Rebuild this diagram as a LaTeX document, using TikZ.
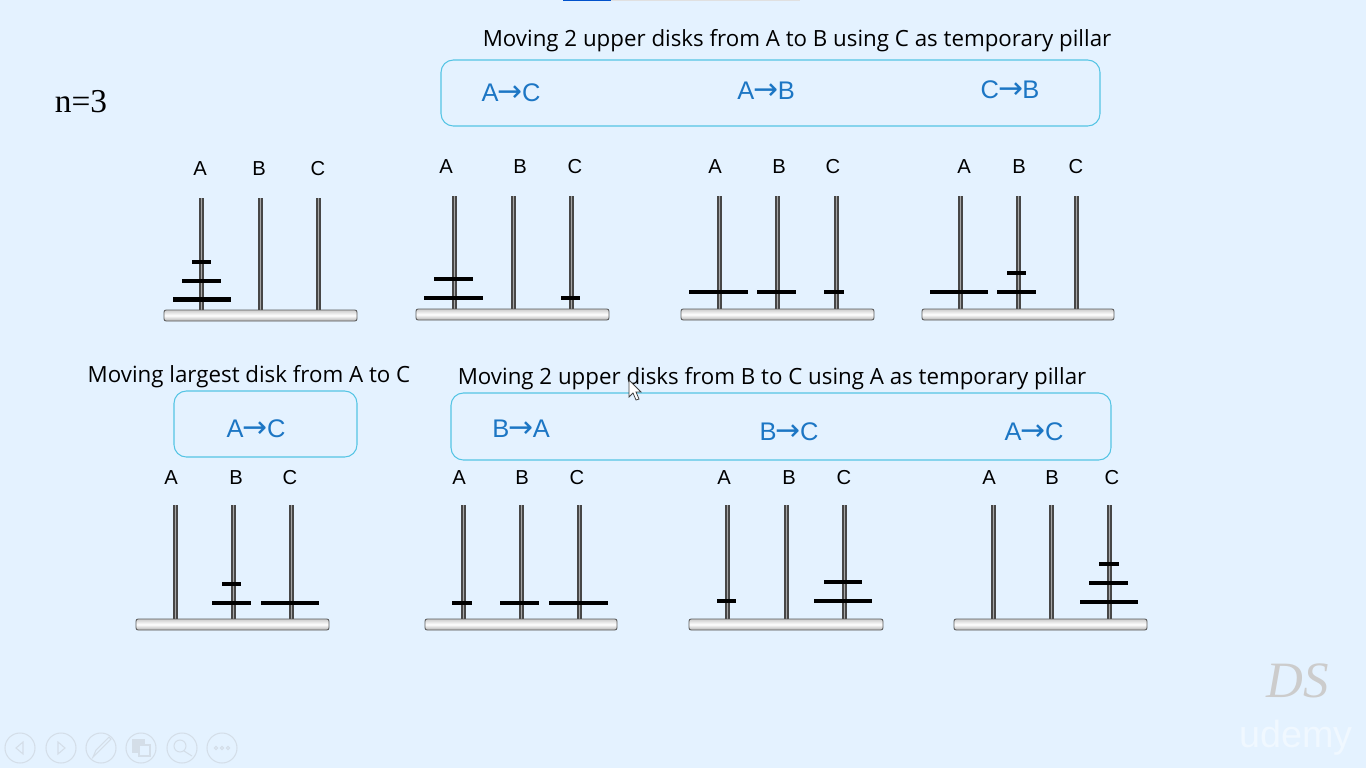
\documentclass[tikz,border=0pt]{standalone}
\usepackage{fontspec}
\setmainfont{Open Sans}
\newfontfamily\labelfont{Liberation Sans}
\newfontfamily\formulafont{Liberation Serif}
\newfontfamily\arrowfont{DejaVu Sans}
\usetikzlibrary{positioning}
\definecolor{slideBg}{RGB}{228, 242, 255}
\definecolor{boxEdge}{RGB}{84, 196, 228}
\definecolor{moveBlue}{RGB}{28, 118, 196}
\definecolor{navGrey}{RGB}{212, 222, 232}
\newcommand{\movearrow}{\kern-0.03em{\arrowfont\fontsize{17}{18}\selectfont →}\kern-0.03em}
\tikzset{
    peg/.style={draw=black!72, line width=0.85pt, double=black!35, double distance=1pt, xshift=0.01cm},
    disk/.style={black, line width=2.3pt},
    plinth/.style={draw=black!65, line width=0.5pt, rounded corners=1.2pt, top color=black!20, bottom color=black!30, middle color=white},
    movebox/.style={draw=boxEdge, line width=0.6pt, rounded corners=7pt, fill=slideBg},
    pillar/.style={font=\labelfont\fontsize{11.5}{14}\selectfont, text=black, inner sep=0pt},
    move/.style={font=\labelfont\fontsize{14.5}{18}\selectfont, text=moveBlue, inner sep=0pt},
    heading/.style={font=\fontsize{12.7}{15}\selectfont, text=black, inner sep=0pt},
    navring/.style={draw=navGrey, line width=0.6pt}
}
\begin{document}
\begin{tikzpicture}[x=0.02cm, y=-0.02cm]
    \useasboundingbox (0,0) rectangle (1366,768);
    \fill[slideBg] (0,0) rectangle (1366,768);
    \fill[blue!60!cyan!80!black] (563,0) rectangle (611,1.2);
    \fill[black!12] (611,0) rectangle (800,1.2);

    \node[font=\formulafont\fontsize{19}{22}\selectfont, inner sep=0pt] (count) at (81,102) {n=3};
    \node[heading] (titleTop) at (797,41) {Moving 2 upper disks from A to B using C as temporary pillar};
    \node[heading] (titleMid) at (249,377) {Moving largest disk from A to C};
    \node[heading] (titleLow) at (772,379) {Moving 2 upper disks from B to C using A as temporary pillar};

    \draw[movebox] (441,60) rectangle (1100,126);
    \draw[movebox] (174,391) rectangle (357,457);
    \draw[movebox] (451,393) rectangle (1111,460);
    \node[move] (moveA) at (511,93) {A\movearrow C};
    \node[move] (moveB) at (766,91) {A\movearrow B};
    \node[move] (moveC) at (1010,90) {C\movearrow B};
    \node[move] (moveD) at (256,429) {A\movearrow C};
    \node[move] (moveE) at (521,429) {B\movearrow A};
    \node[move] (moveF) at (789,432) {B\movearrow C};
    \node[move] (moveG) at (1034,432) {A\movearrow C};

    % first row
    \node[pillar] (a1) at (200,169) {A};
    \node[pillar] (b1) at (259,169) {B};
    \node[pillar] (c1) at (318,169) {C};
    \draw[peg] (201,198) -- (201,310) (260,198) -- (260,310) (318,198) -- (318,310);
    \draw[plinth] (164,310) rectangle (357,321);
    \draw[disk] (192,262) -- (211,262) (182,281) -- (221,281) (173,299.5) -- (231,299.5);

    \node[pillar] (a2) at (446,167) {A};
    \node[pillar] (b2) at (520,167) {B};
    \node[pillar] (c2) at (575,167) {C};
    \draw[peg] (454,196) -- (454,309) (513,196) -- (513,309) (571,196) -- (571,309);
    \draw[plinth] (416,309) rectangle (609,320);
    \draw[disk] (434,279) -- (473,279) (424,298) -- (483,298) (561,298) -- (580,298);

    \node[pillar] (a3) at (715,167) {A};
    \node[pillar] (b3) at (779,167) {B};
    \node[pillar] (c3) at (833,167) {C};
    \draw[peg] (719,196) -- (719,309) (777,196) -- (777,309) (836,196) -- (836,309);
    \draw[plinth] (681,309) rectangle (874,320);
    \draw[disk] (689,292) -- (748,292) (757,292) -- (796,292) (824,292) -- (844,292);

    \node[pillar] (a4) at (964,167) {A};
    \node[pillar] (b4) at (1019,167) {B};
    \node[pillar] (c4) at (1076,167) {C};
    \draw[peg] (960,196) -- (960,309) (1018,196) -- (1018,309) (1076,196) -- (1076,309);
    \draw[plinth] (922,309) rectangle (1114,320);
    \draw[disk] (930,292) -- (988,292) (997,292) -- (1036,292) (1007,273) -- (1026,273);

    % second row
    \node[pillar] (a5) at (171,478) {A};
    \node[pillar] (b5) at (236,478) {B};
    \node[pillar] (c5) at (290,478) {C};
    \draw[peg] (175,505) -- (175,619) (233,505) -- (233,619) (291,505) -- (291,619);
    \draw[plinth] (136,619) rectangle (329,630);
    \draw[disk] (222,584) -- (241,584) (212,603) -- (251,603) (261,603) -- (319,603);

    \node[pillar] (a6) at (459,478) {A};
    \node[pillar] (b6) at (522,478) {B};
    \node[pillar] (c6) at (577,478) {C};
    \draw[peg] (463,505) -- (463,619) (521,505) -- (521,619) (579,505) -- (579,619);
    \draw[plinth] (425,619) rectangle (617,630);
    \draw[disk] (452,603) -- (472,603) (500,603) -- (539,603) (549,603) -- (608,603);

    \node[pillar] (a7) at (724,478) {A};
    \node[pillar] (b7) at (789,478) {B};
    \node[pillar] (c7) at (844,478) {C};
    \draw[peg] (727,505) -- (727,619) (786,505) -- (786,619) (844,505) -- (844,619);
    \draw[plinth] (689,619) rectangle (883,630);
    \draw[disk] (717,601) -- (736,601) (814,601) -- (872,601) (824,582) -- (862,582);

    \node[pillar] (a8) at (989,478) {A};
    \node[pillar] (b8) at (1052,478) {B};
    \node[pillar] (c8) at (1112,478) {C};
    \draw[peg] (993,505) -- (993,619) (1051,505) -- (1051,619) (1109,505) -- (1109,619);
    \draw[plinth] (954,619) rectangle (1147,630);
    \draw[disk] (1099,564) -- (1119,564) (1089,583) -- (1128,583) (1080,602) -- (1138,602);

    % pointer
    \draw[fill=white, draw=black!75, line width=0.45pt] (629,380) -- (629,397) -- (633,393) -- (636,400) -- (639,399) -- (636,392) -- (641,392) -- cycle;

    % player controls
    \draw[navring] (20,748) circle (15) (61,748) circle (15) (101,748) circle (15) (141,748) circle (15) (182,748) circle (15) (222,748) circle (15);
    \draw[navring] (23,742) -- (16,748) -- (23,754) -- cycle;
    \draw[navring] (58,742) -- (65,748) -- (58,754) -- cycle;
    \draw[navring] (93,757) -- (96,750) -- (109,737) -- (111,739) -- (98,752) -- cycle;
    \draw[navring, fill=navGrey] (133,740) rectangle (144,752);
    \draw[navring, fill=slideBg] (139,745) rectangle (150,756);
    \draw[navring] (180,746) circle (6) (184,751) -- (192,756);
    \draw[navring] (216,748) circle (1.6) (222,748) circle (1.6) (228,748) circle (1.6);

    % watermark
    \node[font=\formulafont\itshape\fontsize{29}{32}\selectfont, text=black!20, inner sep=0pt] (mark) at (1298,681) {DS};
    \node[font=\labelfont\fontsize{21.5}{24}\selectfont, text=white!45!slideBg, inner sep=0pt] (brand) at (1296,738) {udemy};
\end{tikzpicture}
\end{document}
